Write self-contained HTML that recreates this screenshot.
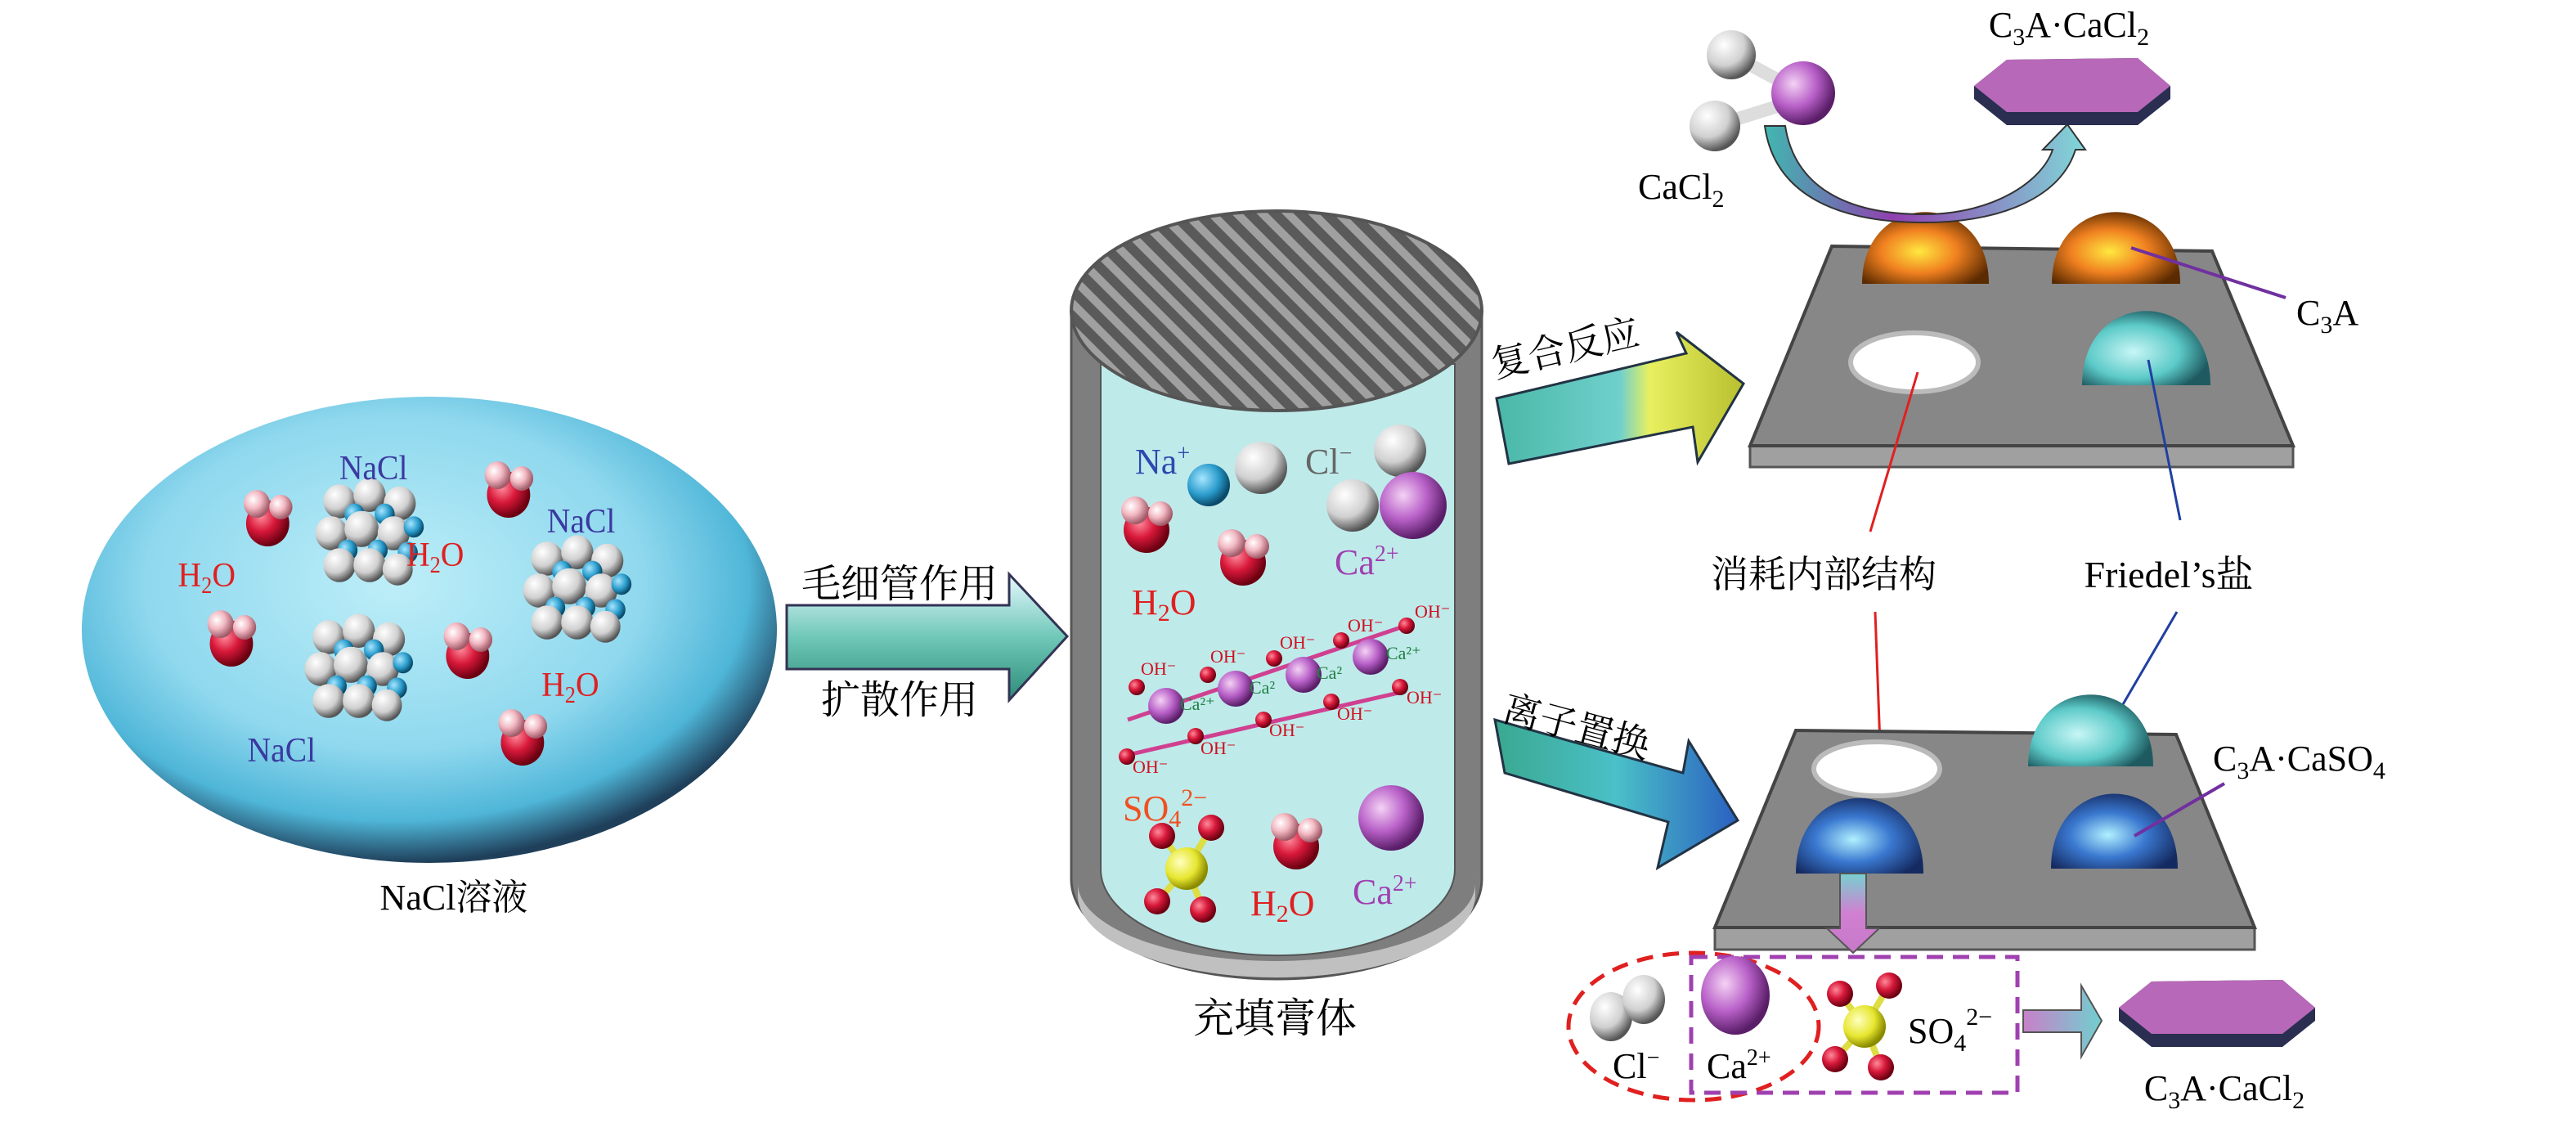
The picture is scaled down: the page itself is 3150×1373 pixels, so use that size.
<!DOCTYPE html>
<html><head><meta charset="utf-8"><style>
html,body{margin:0;padding:0;background:#fff;width:3150px;height:1373px;overflow:hidden}
svg{display:block}
text{font-family:"Liberation Serif","Noto Serif CJK SC",serif}
.cj{font-family:"Liberation Serif","Noto Serif CJK SC","Noto Sans CJK SC",serif}
</style></head><body>
<svg width="3150" height="1373" viewBox="0 0 3150 1373" xmlns="http://www.w3.org/2000/svg">
<defs>
<radialGradient id="ell" cx="45%" cy="40%" r="60%"><stop offset="0" stop-color="#bdeef8"/><stop offset="0.6" stop-color="#8fd8ee"/><stop offset="0.85" stop-color="#4fb6d8"/><stop offset="1" stop-color="#1f3f5a"/></radialGradient>
<radialGradient id="red" cx="35%" cy="35%" r="65%"><stop offset="0" stop-color="#ff8a9a"/><stop offset="0.5" stop-color="#d8183a"/><stop offset="1" stop-color="#6a0010"/></radialGradient>
<radialGradient id="pink" cx="35%" cy="35%" r="65%"><stop offset="0" stop-color="#fff"/><stop offset="0.5" stop-color="#f2b8c2"/><stop offset="1" stop-color="#a05a68"/></radialGradient>
<radialGradient id="grey" cx="35%" cy="30%" r="70%"><stop offset="0" stop-color="#fff"/><stop offset="0.6" stop-color="#d0d0d0"/><stop offset="1" stop-color="#555"/></radialGradient>
<radialGradient id="pur" cx="35%" cy="35%" r="65%"><stop offset="0" stop-color="#f4d2f4"/><stop offset="0.55" stop-color="#b860c8"/><stop offset="1" stop-color="#5a1e68"/></radialGradient>
<radialGradient id="blu" cx="35%" cy="35%" r="65%"><stop offset="0" stop-color="#a6e6ff"/><stop offset="0.6" stop-color="#2a9ccc"/><stop offset="1" stop-color="#0a4a6a"/></radialGradient>
<radialGradient id="yel" cx="35%" cy="35%" r="65%"><stop offset="0" stop-color="#ffffc0"/><stop offset="0.6" stop-color="#e6e630"/><stop offset="1" stop-color="#8a8a00"/></radialGradient>
<radialGradient id="org" cx="45%" cy="55%" r="60%"><stop offset="0" stop-color="#ffe840"/><stop offset="0.5" stop-color="#f08020"/><stop offset="1" stop-color="#5a2a00"/></radialGradient>
<radialGradient id="cyn" cx="40%" cy="55%" r="60%"><stop offset="0" stop-color="#c8f6f6"/><stop offset="0.6" stop-color="#5ccac8"/><stop offset="1" stop-color="#1e5a60"/></radialGradient>
<radialGradient id="bd" cx="45%" cy="55%" r="60%"><stop offset="0" stop-color="#b0f0ff"/><stop offset="0.5" stop-color="#3a78d0"/><stop offset="1" stop-color="#152a60"/></radialGradient>
<pattern id="hatch" width="22" height="22" patternUnits="userSpaceOnUse" patternTransform="rotate(-45)"><rect width="22" height="22" fill="#5a5a5a"/><rect width="10" height="22" fill="#a0a0a0"/></pattern>
<linearGradient id="a1" x1="0" y1="0" x2="0" y2="1"><stop offset="0" stop-color="#e8f8ff"/><stop offset="0.5" stop-color="#6fc8b8"/><stop offset="1" stop-color="#2e8c78"/></linearGradient>
<linearGradient id="a2" x1="0" y1="0" x2="1" y2="0"><stop offset="0" stop-color="#4ab8a8"/><stop offset="0.5" stop-color="#70d0cc"/><stop offset="0.62" stop-color="#e8f060"/><stop offset="1" stop-color="#b8c030"/></linearGradient>
<linearGradient id="a3" x1="0" y1="0" x2="1" y2="0"><stop offset="0" stop-color="#3aa890"/><stop offset="0.5" stop-color="#4ac0c8"/><stop offset="1" stop-color="#2a60c0"/></linearGradient>
<linearGradient id="cv" x1="0" y1="0" x2="1" y2="0"><stop offset="0" stop-color="#40b8b0"/><stop offset="0.4" stop-color="#9040b0"/><stop offset="1" stop-color="#80d8d8"/></linearGradient>
<linearGradient id="dn" x1="0" y1="0" x2="0" y2="1"><stop offset="0" stop-color="#78d0d0"/><stop offset="0.5" stop-color="#d080d0"/><stop offset="1" stop-color="#c878c8"/></linearGradient>
<linearGradient id="rt" x1="0" y1="0" x2="1" y2="0"><stop offset="0" stop-color="#c880c8"/><stop offset="1" stop-color="#70d0d0"/></linearGradient>
<g id="water"><circle cx="0" cy="0" r="28" fill="url(#red)"/><circle cx="-14" cy="-24" r="17" fill="url(#pink)"/><circle cx="17" cy="-20" r="15" fill="url(#pink)"/></g>
<g id="clu">
<circle cx="-30" cy="-30" r="16" fill="url(#grey)"/><circle cx="0" cy="-36" r="16" fill="url(#grey)"/><circle cx="30" cy="-28" r="16" fill="url(#grey)"/>
<circle cx="-15" cy="-18" r="10" fill="url(#blu)"/><circle cx="15" cy="-18" r="10" fill="url(#blu)"/>
<circle cx="-38" cy="0" r="16" fill="url(#grey)"/><circle cx="-8" cy="-4" r="17" fill="url(#grey)"/><circle cx="24" cy="0" r="16" fill="url(#grey)"/><circle cx="44" cy="-6" r="10" fill="url(#blu)"/>
<circle cx="-22" cy="16" r="10" fill="url(#blu)"/><circle cx="8" cy="16" r="10" fill="url(#blu)"/><circle cx="38" cy="18" r="10" fill="url(#blu)"/>
<circle cx="-30" cy="30" r="16" fill="url(#grey)"/><circle cx="0" cy="30" r="16" fill="url(#grey)"/><circle cx="28" cy="34" r="15" fill="url(#grey)"/>
</g>
<g id="so4"><line x1="0" y1="0" x2="-30" y2="-40" stroke="#dd4" stroke-width="8"/><line x1="0" y1="0" x2="30" y2="-50" stroke="#dd4" stroke-width="8"/><line x1="0" y1="0" x2="-36" y2="40" stroke="#dd4" stroke-width="8"/><line x1="0" y1="0" x2="20" y2="48" stroke="#dd4" stroke-width="8"/>
<circle cx="-30" cy="-40" r="16" fill="url(#red)"/><circle cx="30" cy="-50" r="16" fill="url(#red)"/><circle cx="0" cy="0" r="26" fill="url(#yel)"/><circle cx="-36" cy="40" r="16" fill="url(#red)"/><circle cx="20" cy="50" r="16" fill="url(#red)"/></g>
<g id="hex"><polygon points="0,10 40,-22 200,-24 240,10 240,26 200,58 40,58 0,26" fill="#2a2e50"/><polygon points="0,10 40,-22 200,-24 240,10 200,42 40,42" fill="#b868b8"/></g>
</defs>

<!-- Left ellipse -->
<ellipse cx="525" cy="770" rx="425" ry="285" fill="url(#ell)"/>
<g transform="matrix(0.944 0 0 1 -4 0)">
<use href="#water" x="351" y="640"/><use href="#water" x="663" y="605"/><use href="#water" x="304" y="787"/><use href="#water" x="610" y="802"/><use href="#water" x="681" y="908"/>
<use href="#clu" transform="translate(483,652) scale(1.3)"/><use href="#clu" transform="translate(752,722) scale(1.3)"/><use href="#clu" transform="translate(469,818) scale(1.3)"/>
<g font-size="42">
<text x="488" y="586" fill="#3a3aa0" text-anchor="middle">NaCl</text>
<text x="757" y="651" fill="#3a3aa0" text-anchor="middle">NaCl</text>
<text x="369" y="931" fill="#3a3aa0" text-anchor="middle">NaCl</text>
<text x="272" y="717" fill="#e02020" text-anchor="middle">H<tspan font-size="28" dy="8">2</tspan><tspan dy="-8">O</tspan></text>
<text x="568" y="692" fill="#e02020" text-anchor="middle">H<tspan font-size="28" dy="8">2</tspan><tspan dy="-8">O</tspan></text>
<text x="743" y="851" fill="#e02020" text-anchor="middle">H<tspan font-size="28" dy="8">2</tspan><tspan dy="-8">O</tspan></text>
</g>
</g>
<text x="555" y="1112" font-size="44" text-anchor="middle" class="cj">NaCl溶液</text>

<!-- Arrow 1 -->
<polygon points="962,740 1234,740 1234,702 1305,778 1234,856 1234,818 962,818" fill="url(#a1)" stroke="#335" stroke-width="3"/>
<text x="1100" y="730" font-size="48" text-anchor="middle" class="cj">毛细管作用</text>
<text x="1100" y="872" font-size="48" text-anchor="middle" class="cj">扩散作用</text>

<!-- Cylinder -->
<path d="M1310,380 L1310,1075 A251,122 0 0 0 1812,1075 L1812,380 Z" fill="#7e7e7e" stroke="#555" stroke-width="3"/>
<path d="M1318,1080 A243,95 0 0 0 1804,1080 L1804,1095 A243,100 0 0 1 1318,1095Z" fill="#c0c0c0"/>
<path d="M1346,445 L1346,1063 A216,105 0 0 0 1779,1063 L1779,445 Z" fill="#bfeaea" stroke="#555" stroke-width="2"/>
<ellipse cx="1561" cy="380" rx="251" ry="122" fill="url(#hatch)" stroke="#555" stroke-width="4"/>
<text x="1559" y="1262" font-size="50" text-anchor="middle" class="cj">充填膏体</text>
<!-- cylinder contents -->
<circle cx="1478" cy="593" r="26" fill="url(#blu)"/><circle cx="1542" cy="572" r="32" fill="url(#grey)"/><circle cx="1712" cy="551" r="32" fill="url(#grey)"/><circle cx="1654" cy="618" r="32" fill="url(#grey)"/><circle cx="1728" cy="618" r="41" fill="url(#pur)"/>
<use href="#water" x="1402" y="648"/><use href="#water" x="1520" y="688"/>
<g stroke="#d04090" stroke-width="5"><line x1="1379" y1="880" x2="1728" y2="762"/><line x1="1379" y1="923" x2="1719" y2="845"/></g>
<g fill="url(#pur)"><circle cx="1426" cy="863" r="22"/><circle cx="1511" cy="842" r="22"/><circle cx="1594" cy="825" r="22"/><circle cx="1676" cy="803" r="22"/></g>
<g fill="url(#red)"><circle cx="1390" cy="840" r="10"/><circle cx="1477" cy="825" r="10"/><circle cx="1558" cy="805" r="10"/><circle cx="1640" cy="783" r="10"/><circle cx="1720" cy="765" r="10"/><circle cx="1378" cy="925" r="10"/><circle cx="1462" cy="900" r="10"/><circle cx="1545" cy="880" r="10"/><circle cx="1628" cy="858" r="10"/><circle cx="1712" cy="840" r="10"/></g>
<g font-size="22" fill="#d01020"><text x="1395" y="825">OH⁻</text><text x="1480" y="810">OH⁻</text><text x="1565" y="793">OH⁻</text><text x="1648" y="772">OH⁻</text><text x="1730" y="755">OH⁻</text><text x="1385" y="945">OH⁻</text><text x="1468" y="922">OH⁻</text><text x="1552" y="900">OH⁻</text><text x="1635" y="880">OH⁻</text><text x="1720" y="860">OH⁻</text></g>
<g font-size="22" fill="#208040"><text x="1443" y="868">Ca²⁺</text><text x="1528" y="848">Ca²</text><text x="1610" y="830">Ca²</text><text x="1695" y="806">Ca²⁺</text></g>
<use href="#so4" x="1451" y="1062"/>
<use href="#water" x="1585" y="1035"/>
<circle cx="1701" cy="1000" r="40" fill="url(#pur)"/>
<g font-size="44">
<text x="1388" y="579" fill="#2a4ab0">Na<tspan font-size="28" dy="-16">+</tspan></text>
<text x="1596" y="579" fill="#666">Cl<tspan font-size="28" dy="-16">−</tspan></text>
<text x="1632" y="702" fill="#a040b0">Ca<tspan font-size="28" dy="-16">2+</tspan></text>
<text x="1384" y="751" fill="#e02020">H<tspan font-size="30" dy="8">2</tspan><tspan dy="-8">O</tspan></text>
<text x="1373" y="1003" fill="#f05020">SO<tspan font-size="30" dy="8">4</tspan><tspan font-size="30" dy="-26">2−</tspan></text>
<text x="1529" y="1119" fill="#e02020">H<tspan font-size="30" dy="8">2</tspan><tspan dy="-8">O</tspan></text>
<text x="1654" y="1105" fill="#a040b0">Ca<tspan font-size="28" dy="-16">2+</tspan></text>
</g>

<!-- Arrow 复合反应 -->
<polygon points="1830,487 2062,432 2050,406 2132,469 2076,565 2070,522 1845,567" fill="url(#a2)" stroke="#234" stroke-width="3"/>
<text x="1828" y="462" font-size="46" class="cj" transform="rotate(-13 1828 462)">复合反应</text>
<!-- Arrow 离子置换 -->
<polygon points="1828,880 1840,945 2040,1005 2027,1061 2125,1003 2065,906 2058,945" fill="url(#a3)" stroke="#234" stroke-width="3"/>
<text x="1835" y="880" font-size="46" class="cj" transform="rotate(15 1835 880)">离子置换</text>

<!-- Upper plate -->
<polygon points="2140,545 2804,545 2804,571 2140,571" fill="#a0a0a0" stroke="#555" stroke-width="3"/>
<polygon points="2240,301 2705,307 2804,545 2140,545" fill="#878787" stroke="#444" stroke-width="4"/>
<path d="M2277,347 C2277,230 2432,230 2432,347 Z" fill="url(#org)"/>
<path d="M2509,347 C2509,230 2666,230 2666,347 Z" fill="url(#org)"/>
<path d="M2546,471 C2546,350 2703,350 2703,471 Z" fill="url(#cyn)"/>
<ellipse cx="2341" cy="443" rx="78" ry="36" fill="#fff" stroke="#bbb" stroke-width="6"/>
<!-- CaCl2 molecule -->
<line x1="2117" y1="67" x2="2205" y2="114" stroke="#ddd" stroke-width="16"/><line x1="2097" y1="154" x2="2205" y2="120" stroke="#ddd" stroke-width="16"/>
<circle cx="2117" cy="67" r="30" fill="url(#grey)"/><circle cx="2097" cy="154" r="31" fill="url(#grey)"/><circle cx="2205" cy="114" r="39" fill="url(#pur)"/>
<text x="2003" y="243" font-size="44">CaCl<tspan font-size="30" dy="10">2</tspan></text>
<path d="M2158,154 L2183,154 C2195,230 2260,262 2352,262 C2440,262 2498,220 2510,183 L2498,183 L2528,152 L2550,183 L2538,183 C2520,240 2450,272 2352,272 C2250,272 2170,240 2158,154 Z" fill="url(#cv)" stroke="#333" stroke-width="2"/>
<use href="#hex" x="2414" y="95"/>
<text x="2530" y="45" font-size="44" text-anchor="middle">C<tspan font-size="30" dy="10">3</tspan><tspan dy="-10">A·CaCl</tspan><tspan font-size="30" dy="10">2</tspan></text>
<line x1="2606" y1="303" x2="2795" y2="364" stroke="#7030a0" stroke-width="4"/>
<text x="2808" y="397" font-size="44">C<tspan font-size="30" dy="10">3</tspan><tspan dy="-10">A</tspan></text>
<line x1="2345" y1="455" x2="2287" y2="650" stroke="#e02020" stroke-width="3"/>
<line x1="2627" y1="440" x2="2666" y2="636" stroke="#2040a0" stroke-width="3"/>
<text x="2230" y="718" font-size="46" text-anchor="middle" class="cj">消耗内部结构</text>
<text x="2652" y="718" font-size="46" text-anchor="middle" class="cj">Friedel’s盐</text>
<line x1="2293" y1="748" x2="2300" y2="938" stroke="#e02020" stroke-width="3"/>
<line x1="2662" y1="748" x2="2585" y2="880" stroke="#2040a0" stroke-width="3"/>

<!-- Lower plate -->
<polygon points="2097,1134 2757,1134 2757,1161 2097,1161" fill="#a0a0a0" stroke="#555" stroke-width="3"/>
<polygon points="2196,893 2661,898 2757,1134 2097,1134" fill="#878787" stroke="#444" stroke-width="4"/>
<ellipse cx="2295" cy="940" rx="77" ry="33" fill="#fff" stroke="#bbb" stroke-width="6"/>
<path d="M2480,937 C2480,820 2633,820 2633,937 Z" fill="url(#cyn)"/>
<path d="M2196,1068 C2196,945 2352,945 2352,1068 Z" fill="url(#bd)"/>
<path d="M2508,1062 C2508,940 2663,940 2663,1062 Z" fill="url(#bd)"/>
<line x1="2610" y1="1022" x2="2720" y2="958" stroke="#7030a0" stroke-width="4"/>
<text x="2706" y="942" font-size="44">C<tspan font-size="30" dy="10">3</tspan><tspan dy="-10">A·CaSO</tspan><tspan font-size="30" dy="10">4</tspan></text>
<polygon points="2250,1068 2282,1068 2282,1135 2298,1135 2266,1165 2234,1135 2250,1135" fill="url(#dn)" stroke="#555" stroke-width="2"/>

<!-- bottom row -->
<ellipse cx="2071" cy="1255" rx="153" ry="90" fill="none" stroke="#e02020" stroke-width="5" stroke-dasharray="20,12"/>
<rect x="2068" y="1170" width="399" height="166" fill="none" stroke="#a040b0" stroke-width="5" stroke-dasharray="20,12"/>
<ellipse cx="1970" cy="1243" rx="26" ry="30" fill="url(#grey)"/><ellipse cx="2010" cy="1222" rx="26" ry="30" fill="url(#grey)"/>
<ellipse cx="2122" cy="1217" rx="42" ry="48" fill="url(#pur)"/>
<use href="#so4" x="2280" y="1255"/>
<g font-size="44">
<text x="1972" y="1318">Cl<tspan font-size="28" dy="-16">−</tspan></text>
<text x="2087" y="1318">Ca<tspan font-size="28" dy="-16">2+</tspan></text>
<text x="2333" y="1275">SO<tspan font-size="30" dy="10">4</tspan><tspan font-size="30" dy="-32">2−</tspan></text>
</g>
<polygon points="2474,1235 2545,1235 2545,1205 2570,1248 2545,1292 2545,1262 2474,1262" fill="url(#rt)" stroke="#555" stroke-width="2"/>
<use href="#hex" x="2591" y="1222"/>
<text x="2720" y="1345" font-size="44" text-anchor="middle">C<tspan font-size="30" dy="10">3</tspan><tspan dy="-10">A·CaCl</tspan><tspan font-size="30" dy="10">2</tspan></text>
</svg>
</body></html>
